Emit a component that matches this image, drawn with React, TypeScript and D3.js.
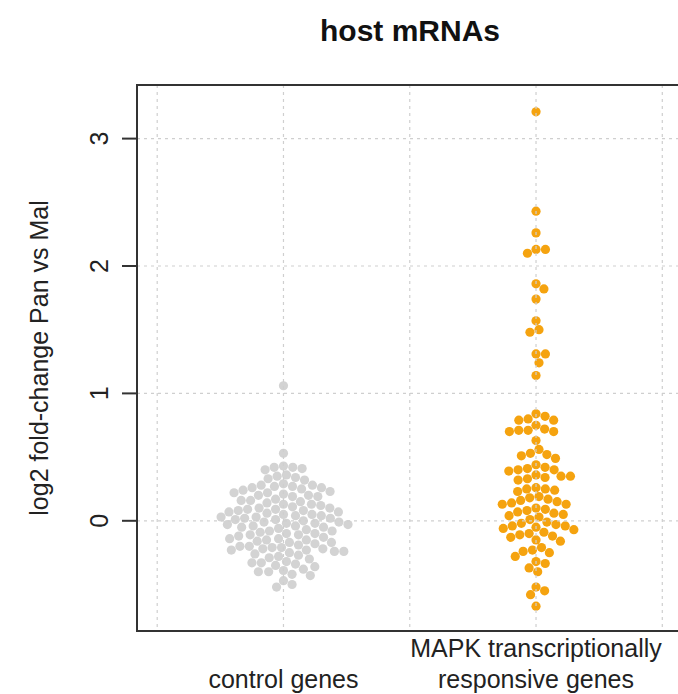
import * as d3 from "d3";

// log2 fold-change values
const controlGenes = [
  1.06, 0.53,
  0.43, 0.42, 0.42, 0.41, 0.4,
  0.36, 0.35, 0.34, 0.33, 0.32,
  0.29, 0.28, 0.28, 0.27, 0.27, 0.26, 0.26, 0.25, 0.24,
  0.23, 0.22, 0.22, 0.21, 0.2, 0.2, 0.19, 0.19,
  0.17, 0.16, 0.16, 0.15, 0.14, 0.13, 0.13,
  0.12, 0.11, 0.1, 0.1, 0.09, 0.09, 0.08, 0.08, 0.07, 0.07,
  0.06, 0.05, 0.05, 0.04, 0.04, 0.03, 0.03, 0.02, 0.02, 0.01, 0.01,
  0.0, -0.01, -0.01, -0.02, -0.02, -0.03, -0.03, -0.04, -0.04, -0.05, -0.05, -0.06,
  -0.07, -0.08, -0.08, -0.09, -0.1, -0.1, -0.11, -0.12, -0.11,
  -0.13, -0.14, -0.15, -0.15, -0.16, -0.17, -0.18, -0.14, -0.17,
  -0.19, -0.2, -0.21, -0.21, -0.22, -0.22, -0.23, -0.23, -0.24, -0.25, -0.26, -0.2, -0.24,
  -0.28, -0.29, -0.3, -0.27,
  -0.32, -0.33, -0.33, -0.34, -0.35, -0.36,
  -0.38, -0.39, -0.4, -0.4, -0.42, -0.43,
  -0.47,
  -0.5, -0.52,
];

const mapkGenes = [
  3.21, 2.43, 2.26, 2.13, 2.13, 2.1, 1.86, 1.82, 1.74, 1.57, 1.5, 1.48, 1.31, 1.31, 1.24, 1.14,
  0.84, 0.82, 0.8, 0.79, 0.79, 0.75, 0.72, 0.71, 0.71, 0.7, 0.7, 0.63,
  0.56, 0.53, 0.52, 0.51, 0.49,
  0.44, 0.42, 0.41, 0.4, 0.4, 0.39, 0.36, 0.35, 0.35, 0.34, 0.33, 0.32,
  0.26, 0.25, 0.25, 0.24, 0.23,
  0.19, 0.18, 0.17, 0.16, 0.15, 0.14, 0.13, 0.13,
  0.1, 0.09, 0.08, 0.07, 0.06, 0.05, 0.04, 0.03,
  0.01, -0.01, -0.02, -0.03, -0.04, -0.04, -0.05, -0.06, -0.07,
  -0.09, -0.1, -0.11, -0.12, -0.13, -0.15, -0.16,
  -0.21, -0.23, -0.24, -0.25,
  -0.28, -0.32, -0.335, -0.37, -0.4,
  -0.52, -0.55, -0.58, -0.67,
];

const groups = [
  { label: ["control genes"], values: controlGenes, color: "#d3d3d3" },
  { label: ["MAPK transcriptionally", "responsive genes"], values: mapkGenes, color: "#f5a30f" },
];

const yTicks = [0, 1, 2, 3];
const xGrid = [0.5, 1, 1.5, 2, 2.5];

const W = 678;
const H = 694;
const box = { left: 137, right: 682.5, top: 85, bottom: 631 };
const font = "'Liberation Sans', Arial, sans-serif";

// beeswarm "swarm" placement, ascending priority
function swarm(ys: number[], d: number) {
  const order = d3.range(ys.length).sort((a, b) => ys[a] - ys[b]);
  const placed: { x: number; y: number }[] = [];
  const xs = new Array(ys.length).fill(0);
  for (const i of order) {
    const yi = ys[i];
    const near = placed.filter((p) => Math.abs(p.y - yi) < d);
    let best = 0;
    if (near.length) {
      const dx = near.map((p) => Math.sqrt(d * d - (p.y - yi) ** 2));
      const cands = [0, ...near.map((p, k) => p.x + dx[k]), ...near.map((p, k) => p.x - dx[k])];
      best = Infinity;
      for (const c of cands) {
        const ok = near.every((p) => (c - p.x) ** 2 + (p.y - yi) ** 2 >= d * d * 0.999);
        if (ok && Math.abs(c) < Math.abs(best)) best = c;
      }
    }
    xs[i] = best;
    placed.push({ x: best, y: yi });
  }
  return xs;
}

export default function App() {
  const x = d3.scaleLinear().domain([0.42, 2.58]).range([box.left, box.right]);
  const y = d3.scaleLinear().domain([0, 3]).range([520.8, 138.6]);
  const spacing = 9.4;
  const r = 4.6;

  return (
    <svg width={W} height={H} style={{ position: "absolute", left: 0, top: 0, background: "#fff" }}>
      <text x={410} y={41} textAnchor="middle" fontFamily={font} fontWeight="bold" fontSize={30} fill="#111">
        host mRNAs
      </text>

      {groups.map((g, gi) => {
        const ys = g.values.map((v) => y(v));
        const xs = swarm(ys, spacing);
        return (
          <g key={gi}>
            {g.values.map((v, i) => (
              <circle key={i} cx={x(gi + 1) + xs[i]} cy={ys[i]} r={r} fill={g.color} />
            ))}
          </g>
        );
      })}

      {/* grid on top of the points, as R's grid() does */}
      {yTicks.map((t) => (
        <line key={"h" + t} x1={box.left} x2={box.right} y1={y(t)} y2={y(t)}
          stroke="#cfcfcf" strokeWidth={1.2} strokeDasharray="3,4" />
      ))}
      {xGrid.map((t) => (
        <line key={"v" + t} x1={x(t)} x2={x(t)} y1={box.top} y2={box.bottom}
          stroke="#cfcfcf" strokeWidth={1.2} strokeDasharray="3,4" />
      ))}

      <rect x={box.left} y={box.top} width={box.right - box.left} height={box.bottom - box.top}
        fill="none" stroke="#333" strokeWidth={2} />

      {yTicks.map((t) => (
        <g key={"t" + t}>
          <line x1={box.left - 15} x2={box.left} y1={y(t)} y2={y(t)} stroke="#333" strokeWidth={2} />
          <text transform={`translate(${108},${y(t)}) rotate(-90)`} textAnchor="middle"
            fontFamily={font} fontSize={25} fill="#222">
            {t}
          </text>
        </g>
      ))}

      <text transform={`translate(${48},${(box.top + box.bottom) / 2}) rotate(-90)`} textAnchor="middle"
        fontFamily={font} fontSize={25} fill="#222">
        log2 fold-change Pan vs Mal
      </text>

      {groups.map((g, gi) =>
        g.label.map((l, li) => (
          <text key={gi + "-" + li} x={x(gi + 1)} y={688 - (g.label.length - 1 - li) * 31}
            textAnchor="middle" fontFamily={font} fontSize={25} fill="#222">
            {l}
          </text>
        ))
      )}
    </svg>
  );
}
